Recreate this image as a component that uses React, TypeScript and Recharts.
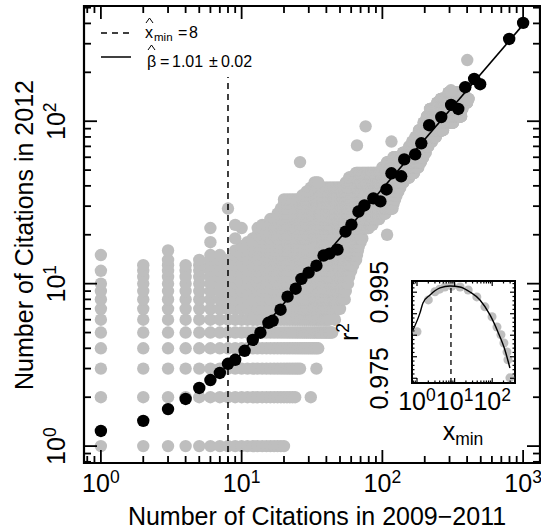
import { ScatterChart, Scatter, XAxis, YAxis, ReferenceArea } from "recharts";

const FONT = '"Liberation Sans", Arial, Helvetica, sans-serif';
const INK = "#000000";
const GREY = "#bebebe";

// ---- main panel: citations 2009-2011 (x) vs citations 2012 (y), log-log ----
const xDomain = [0.7586, 1318];
const yDomain = [0.787, 512];
const xMajorTicks = [1, 10, 100, 1000];
const xMajorLabels = ["0", "1", "2", "3"];
const xMinorTicks = [0.8, 0.9, 2, 3, 4, 5, 6, 7, 8, 9, 20, 30, 40, 50, 60, 70, 80, 90, 200, 300, 400, 500, 600, 700, 800, 900];
const yMajorTicks = [1, 10, 100];
const yMajorLabels = ["0", "1", "2"];
const yMinorTicks = [0.8, 0.9, 2, 3, 4, 5, 6, 7, 8, 9, 20, 30, 40, 50, 60, 70, 80, 90, 200, 300, 400, 500];

// grey cloud of papers, read row by row: [citations 2012, first x, last x] (integer x inclusive)
const greyRows: [number, number, number][] = [
  [1, 1, 20],
  [2, 1, 24], [2, 31, 31],
  [3, 1, 26], [3, 34, 34],
  [4, 1, 35],
  [5, 1, 44],
  [6, 1, 42], [6, 46, 46],
  [7, 1, 50],
  [8, 1, 54],
  [9, 1, 55],
  [10, 1, 57],
  [11, 2, 58],
  [12, 1, 60],
  [13, 2, 62],
  [14, 3, 3], [14, 5, 65],
  [15, 1, 1], [15, 6, 7], [15, 9, 66],
  [16, 3, 3], [16, 9, 67],
  [17, 10, 68],
  [18, 6, 6], [18, 11, 70],
  [19, 9, 9], [19, 12, 72],
  [20, 13, 70], [20, 108, 108],
  [22, 6, 6], [22, 10, 10], [22, 13, 80],
  [23, 9, 9], [23, 14, 85],
  [25, 16, 95],
  [27, 18, 105],
  [29, 8, 8], [29, 19, 118],
  [31, 20, 120],
  [33, 20, 123],
  [35, 27, 126],
  [37, 29, 130],
  [39, 31, 134],
  [42, 33, 35], [42, 55, 141],
  [45, 58, 155],
  [48, 65, 168],
  [52, 100, 180],
  [56, 26, 26], [56, 108, 188],
  [60, 120, 195],
  [64, 140, 203],
  [70, 155, 212], [71, 66, 66],
  [75, 116, 116], [75, 163, 225],
  [80, 172, 240],
  [88, 182, 270],
  [93, 76, 76],
  [98, 196, 318],
  [107, 207, 363],
  [119, 218, 370],
  [130, 245, 400],
  [137, 260, 409],
  [150, 295, 380],
  [155, 307, 307],
  [238, 401, 401],
];

// binned means (black)
const binnedX = [1, 2, 3, 4, 5, 6, 7, 8, 9, 10.5, 12, 13.6, 15.5, 16.6, 18.9, 21.2, 24.2, 26.6, 29.9, 34, 38.2, 42.1, 48, 54.7, 60.3, 67.6, 74.5, 86.3, 96.8, 107, 116, 136, 143, 171, 189, 215, 262, 308, 346, 388, 449, 495, 796, 1000];
const binnedY = [1.24, 1.43, 1.69, 1.95, 2.28, 2.55, 2.82, 3.21, 3.4, 3.86, 4.51, 4.99, 5.74, 5.91, 6.91, 8.32, 9.31, 10.7, 11.7, 12.9, 14.9, 15.3, 16.2, 20.9, 23.1, 27.8, 30.3, 33.5, 32.1, 38.0, 47.8, 45.8, 58.2, 62.5, 73.1, 94.5, 106, 126, 119, 162, 182, 169, 321, 403];

// power-law fit above x_min
const xMinHat = 8;
const betaHat = 1.01;
const fitPrefactor = 0.367;
const fitXEnd = 1000;
const dashTopY = 187;

// ---- inset: r^2 against x_min ----
const insetXDomain = [0.736, 404];
const insetYDomain = [0.9739, 0.9976];
const insetXmin = [1, 2, 3, 4, 5.5, 8.5, 14, 23, 39, 64, 99, 134, 171, 205, 248, 262, 296];
const insetR2 = [0.9858, 0.9932, 0.9951, 0.9957, 0.9962, 0.9964, 0.9962, 0.9955, 0.9939, 0.9916, 0.9893, 0.9869, 0.9851, 0.9832, 0.9811, 0.9793, 0.9751];
const curveX = [0.78, 1.2, 1.44, 2.22, 4.09, 7.55, 13.9, 25.7, 47.3, 87.3, 142, 218, 296];
const curveR2 = [0.9862, 0.9902, 0.9925, 0.99435, 0.99598, 0.99645, 0.99621, 0.99505, 0.99319, 0.98971, 0.98576, 0.98158, 0.97739];
const insetPeakR2 = 0.9966;
const insetXMajor = [1, 10, 100];
const insetXLabels = ["0", "1", "2"];
const insetXTicks = [0.8, 0.9, 1, 2, 3, 4, 5, 6, 7, 8, 9, 10, 20, 30, 40, 50, 60, 70, 80, 90, 100, 200, 300, 400];
const insetYTicks = [0.974, 0.975, 0.976, 0.977, 0.978, 0.979, 0.98, 0.981, 0.982, 0.983, 0.984, 0.985, 0.986, 0.987, 0.988, 0.989, 0.99, 0.991, 0.992, 0.993, 0.994, 0.995, 0.996, 0.997];
const insetYLabels: Record<string, string> = { "0.975": "0.975", "0.995": "0.995" };

const greyPoints = greyRows.flatMap(([y, a, b]) =>
  Array.from({ length: b - a + 1 }, (_, i) => ({ x: a + i, y }))
);
const binned = binnedX.map((x, i) => ({ x, y: binnedY[i] }));
const fitLine = [xMinHat, fitXEnd].map((x) => ({ x, y: fitPrefactor * Math.pow(x, betaHat) }));
const dashLine = [{ x: xMinHat, y: yDomain[0] }, { x: xMinHat, y: dashTopY }];
const insetPoints = insetXmin.map((x, i) => ({ x, y: insetR2[i] }));
const insetCurve = curveX.map((x, i) => ({ x, y: curveR2[i] }));
const insetDash = [{ x: xMinHat, y: insetYDomain[0] }, { x: xMinHat, y: insetPeakR2 }];

const MAIN = { left: 84, right: 540, top: 6, bottom: 463 };
// inset chart sits at page (330, 240); plot box in its own coordinates
const INSET = { left: 82, right: 185, top: 41, bottom: 143 };

const dot = (r: number, color: string) => (p: any) => <circle cx={p.cx} cy={p.cy} r={r} fill={color} />;
const noDot = () => <g />;

function MainXTick({ x, payload }: any) {
  const i = xMajorTicks.indexOf(payload.value);
  const len = i >= 0 ? 13 : 7;
  return (
    <g>
      <line x1={x} x2={x} y1={MAIN.bottom} y2={MAIN.bottom - len} stroke={INK} strokeWidth={1.8} />
      <line x1={x} x2={x} y1={MAIN.top} y2={MAIN.top + len} stroke={INK} strokeWidth={1.8} />
      {i >= 0 && (
        <text x={x} y={492} textAnchor="middle" fontSize={25} fontFamily={FONT} fill={INK}>
          10<tspan dy={-9} fontSize={17.5}>{xMajorLabels[i]}</tspan>
        </text>
      )}
    </g>
  );
}

function MainYTick({ y, payload }: any) {
  const i = yMajorTicks.indexOf(payload.value);
  const len = i >= 0 ? 13 : 7;
  return (
    <g>
      <line x1={MAIN.left} x2={MAIN.left + len} y1={y} y2={y} stroke={INK} strokeWidth={1.8} />
      <line x1={MAIN.right} x2={MAIN.right - len} y1={y} y2={y} stroke={INK} strokeWidth={1.8} />
      {i >= 0 && (
        <text x={65} y={y} transform={`rotate(-90 65 ${y})`} textAnchor="middle" fontSize={25} fontFamily={FONT} fill={INK}>
          10<tspan dy={-9} fontSize={17.5}>{yMajorLabels[i]}</tspan>
        </text>
      )}
    </g>
  );
}

function InsetXTick({ x, payload }: any) {
  const i = insetXMajor.indexOf(payload.value);
  const len = i >= 0 ? 5 : 2.5;
  return (
    <g>
      <line x1={x} x2={x} y1={INSET.bottom} y2={INSET.bottom - len} stroke={INK} strokeWidth={1.2} />
      <line x1={x} x2={x} y1={INSET.top} y2={INSET.top + len} stroke={INK} strokeWidth={1.2} />
      {i >= 0 && (
        <text x={x} y={170} textAnchor="middle" fontSize={25} fontFamily={FONT} fill={INK}>
          10<tspan dy={-9} fontSize={17.5}>{insetXLabels[i]}</tspan>
        </text>
      )}
    </g>
  );
}

function InsetYTick({ y, payload }: any) {
  const v: number = payload.value;
  const major = Math.round(v * 1000) % 5 === 0;
  const len = major ? 5 : 2.5;
  const label = insetYLabels[v.toFixed(3)];
  return (
    <g>
      <line x1={INSET.left} x2={INSET.left + len} y1={y} y2={y} stroke={INK} strokeWidth={1.2} />
      <line x1={INSET.right} x2={INSET.right - len} y1={y} y2={y} stroke={INK} strokeWidth={1.2} />
      {label && (
        <text x={58} y={y} transform={`rotate(-90 58 ${y})`} textAnchor="middle" fontSize={25} fontFamily={FONT} fill={INK}>
          {label}
        </text>
      )}
    </g>
  );
}

export default function App() {
  return (
    <div style={{ position: "absolute", left: 0, top: 0, width: 541, height: 532, background: "#fff", overflow: "hidden" }}>
      <div style={{ position: "absolute", left: 0, top: 0 }}>
        <ScatterChart width={541} height={532} margin={{ top: 6, right: 1, bottom: 0, left: 0 }}>
          <XAxis
            type="number"
            dataKey="x"
            scale="log"
            domain={xDomain}
            allowDataOverflow
            ticks={[...xMinorTicks, ...xMajorTicks]}
            interval={0}
            tick={MainXTick}
            tickLine={false}
            axisLine={false}
            height={69}
          />
          <YAxis
            type="number"
            dataKey="y"
            scale="log"
            domain={yDomain}
            allowDataOverflow
            ticks={[...yMinorTicks, ...yMajorTicks]}
            interval={0}
            tick={MainYTick}
            tickLine={false}
            axisLine={false}
            width={84}
          />
          <ReferenceArea x1={xDomain[0]} x2={xDomain[1]} y1={yDomain[0]} y2={yDomain[1]} fill="none" stroke={INK} strokeWidth={2.2} ifOverflow="visible" />
          <Scatter data={greyPoints} fill={GREY} shape={dot(6.2, GREY)} isAnimationActive={false} />
          <Scatter data={dashLine} line={{ stroke: INK, strokeWidth: 1.5, strokeDasharray: "6 5" }} shape={noDot} isAnimationActive={false} />
          <Scatter data={fitLine} line={{ stroke: INK, strokeWidth: 1.6 }} shape={noDot} isAnimationActive={false} />
          <Scatter data={binned} fill={INK} shape={dot(6.2, INK)} isAnimationActive={false} />
        </ScatterChart>
      </div>

      <div style={{ position: "absolute", left: 330, top: 240 }}>
        <ScatterChart width={200} height={220} margin={{ top: 41, right: 15, bottom: 0, left: 0 }}>
          <XAxis
            type="number"
            dataKey="x"
            scale="log"
            domain={insetXDomain}
            allowDataOverflow
            ticks={insetXTicks}
            interval={0}
            tick={InsetXTick}
            tickLine={false}
            axisLine={false}
            height={77}
          />
          <YAxis
            type="number"
            dataKey="y"
            domain={insetYDomain}
            allowDataOverflow
            ticks={insetYTicks}
            interval={0}
            tick={InsetYTick}
            tickLine={false}
            axisLine={false}
            width={82}
          />
          <ReferenceArea x1={insetXDomain[0]} x2={insetXDomain[1]} y1={insetYDomain[0]} y2={insetYDomain[1]} fill="none" stroke={INK} strokeWidth={2} ifOverflow="visible" />
          <Scatter data={insetPoints} fill={GREY} shape={dot(4.5, GREY)} isAnimationActive={false} />
          <Scatter data={insetDash} line={{ stroke: INK, strokeWidth: 1.3, strokeDasharray: "5 4" }} shape={noDot} isAnimationActive={false} />
          <Scatter data={insetCurve} line={{ stroke: INK, strokeWidth: 1.4 }} lineJointType="monotoneX" shape={noDot} isAnimationActive={false} />
        </ScatterChart>
      </div>

      <svg width={541} height={532} style={{ position: "absolute", left: 0, top: 0, pointerEvents: "none" }} fontFamily={FONT}>
        {/* axis titles */}
        <text x={317} y={525} textAnchor="middle" fontSize={25} fill={INK}>
          Number of Citations in 2009−2011
        </text>
        <text x={33} y={235} transform="rotate(-90 33 235)" textAnchor="middle" fontSize={25} fill={INK}>
          Number of Citations in 2012
        </text>

        {/* legend */}
        <line x1={101} x2={131} y1={33} y2={33} stroke={INK} strokeWidth={1.5} strokeDasharray="6 5" />
        <line x1={101} x2={131} y1={57} y2={57} stroke={INK} strokeWidth={1.5} />
        <polyline points="146,23 149.5,18 153,23" fill="none" stroke={INK} strokeWidth={1} />
        <text x={145} y={38} fontSize={16} fill={INK}>x</text>
        <text x={154} y={41} fontSize={11.5} fill={INK}>min</text>
        <text x={178} y={38} fontSize={16} fill={INK}>=</text>
        <text x={189} y={38} fontSize={16} fill={INK}>8</text>
        <polyline points="148,50 151.5,45 155,50" fill="none" stroke={INK} strokeWidth={1} />
        <text x={147} y={67} fontSize={16} fill={INK}>β</text>
        <text x={160} y={67} fontSize={16} fill={INK}>=</text>
        <text x={172} y={67} fontSize={16} fill={INK}>1.01</text>
        <text x={209} y={67} fontSize={16} fill={INK}>±</text>
        <text x={221} y={67} fontSize={16} fill={INK}>0.02</text>

        {/* inset titles */}
        <text x={358} y={332} transform="rotate(-90 358 332)" textAnchor="middle" fontSize={25} fill={INK}>
          r<tspan dy={-9} fontSize={17.5}>2</tspan>
        </text>
        <text x={463} y={440} textAnchor="middle" fontSize={25} fill={INK}>
          x<tspan dy={5} fontSize={17.5}>min</tspan>
        </text>
      </svg>
    </div>
  );
}
